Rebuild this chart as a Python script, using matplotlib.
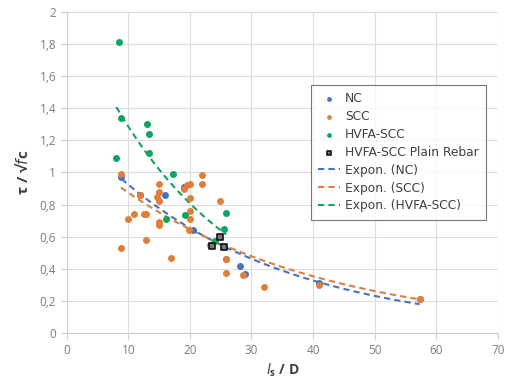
import numpy as np
import matplotlib
matplotlib.use('Agg')
import matplotlib.pyplot as plt
from matplotlib.ticker import FuncFormatter

# NC
nc_x = [8.9, 11.9, 15.9, 19.1, 20.5, 25.9, 28.2, 29.0, 41.0, 57.3]
nc_y = [0.97, 0.86, 0.86, 0.91, 0.64, 0.46, 0.42, 0.37, 0.31, 0.21]
# SCC
scc_x = [8.9, 8.8, 9.9, 10.9, 11.9, 12.5, 12.9, 12.9, 15.0, 15.0, 14.6, 15.0,
         15.0, 15.0, 17.0, 19.5, 20.05, 19.1, 20.05, 20.05, 20.05, 19.8, 21.95,
         21.95, 24.9, 23.3, 25.9, 25.9, 28.6, 32.0, 41.0, 57.3]
scc_y = [0.99, 0.53, 0.71, 0.74, 0.86, 0.74, 0.74, 0.58, 0.93, 0.88, 0.85, 0.82,
         0.69, 0.67, 0.47, 0.92, 0.93, 0.895, 0.84, 0.76, 0.71, 0.64, 0.985,
         0.93, 0.82, 0.55, 0.46, 0.376, 0.36, 0.29, 0.30, 0.21]
# HVFA-SCC
hv_x = [8.45, 8.8, 13.1, 13.4, 13.3, 8.07, 17.2, 19.2, 16.1, 25.9, 25.5, 24.0]
hv_y = [1.81, 1.34, 1.30, 1.24, 1.12, 1.09, 0.99, 0.735, 0.71, 0.75, 0.646, 0.575]
# HVFA-SCC plain rebar
pr_x = [24.9, 23.6, 25.5]
pr_y = [0.596, 0.544, 0.538]

c_nc = '#4472C4'
c_scc = '#E07E3C'
c_hv = '#12A45C'


def expon_fit(x, y):
    # Excel style exponential trendline y = a*exp(b*x)
    x = np.asarray(x)
    b, ln_a = np.polyfit(x, np.log(y), 1)
    xs = np.linspace(x.min(), x.max(), 100)
    return xs, np.exp(ln_a) * np.exp(b * xs)


plt.rcParams['font.family'] = ['Open Sans', 'DejaVu Sans']
fig = plt.figure(figsize=(5.05, 3.82), dpi=100)
ax = fig.add_axes([0.132, 0.128, 0.854, 0.841])

ax.scatter(nc_x, nc_y, s=16, color=c_nc, label='NC', zorder=3)
ax.scatter(scc_x, scc_y, s=16, color=c_scc, label='SCC', zorder=3)
ax.scatter(hv_x, hv_y, s=16, color=c_hv, label='HVFA-SCC', zorder=3)
ax.scatter(pr_x, pr_y, s=22, marker='s', facecolor='#777777', edgecolor='#111111',
           linewidth=1.2, label='HVFA-SCC Plain Rebar', zorder=4)

for xx, yy, c, name in [(nc_x, nc_y, c_nc, 'NC'), (scc_x, scc_y, c_scc, 'SCC'),
                        (hv_x, hv_y, c_hv, 'HVFA-SCC')]:
    fx, fy = expon_fit(xx, yy)
    ax.plot(fx, fy, '--', color=c, lw=1.5, dashes=(3, 2), label='Expon. (%s)' % name, zorder=2)

ax.set_xlim(0, 70)
ax.set_ylim(0, 2)
ax.set_xticks(range(0, 71, 10))
ax.set_yticks(np.arange(0, 2.01, 0.2))
ax.yaxis.set_major_formatter(FuncFormatter(lambda v, p: ('%.1f' % v).rstrip('0').rstrip('.').replace('.', ',') if v else '0'))
ax.grid(True, color='#dddddd', lw=0.8)
ax.set_axisbelow(True)
for s in ['top', 'right']:
    ax.spines[s].set_visible(False)
for s in ['left', 'bottom']:
    ax.spines[s].set_color('#cccccc')
ax.tick_params(colors='#cccccc', labelcolor='#7f7f7f', labelsize=8.5, length=4)

ax.set_xlabel(r'$\mathit{l}_{\mathregular{s}}$ / D', fontsize=10, fontweight='bold', color='#404040', labelpad=4)
ax.set_ylabel('τ / √$f$c', fontsize=11, fontweight='bold', color='#404040', labelpad=6)

leg = ax.legend(loc='upper left', bbox_to_anchor=(0.566, 0.773), prop={'family': 'DejaVu Sans', 'size': 8.8},
                frameon=True, fancybox=False, edgecolor='#555555', handlelength=1.8, handletextpad=0.4,
                borderpad=0.6, labelspacing=0.4, markerscale=0.6, borderaxespad=0)
leg.get_frame().set_linewidth(0.8)
for t in leg.get_texts():
    t.set_color('#404040')

fig.savefig('out.png', dpi=100)
